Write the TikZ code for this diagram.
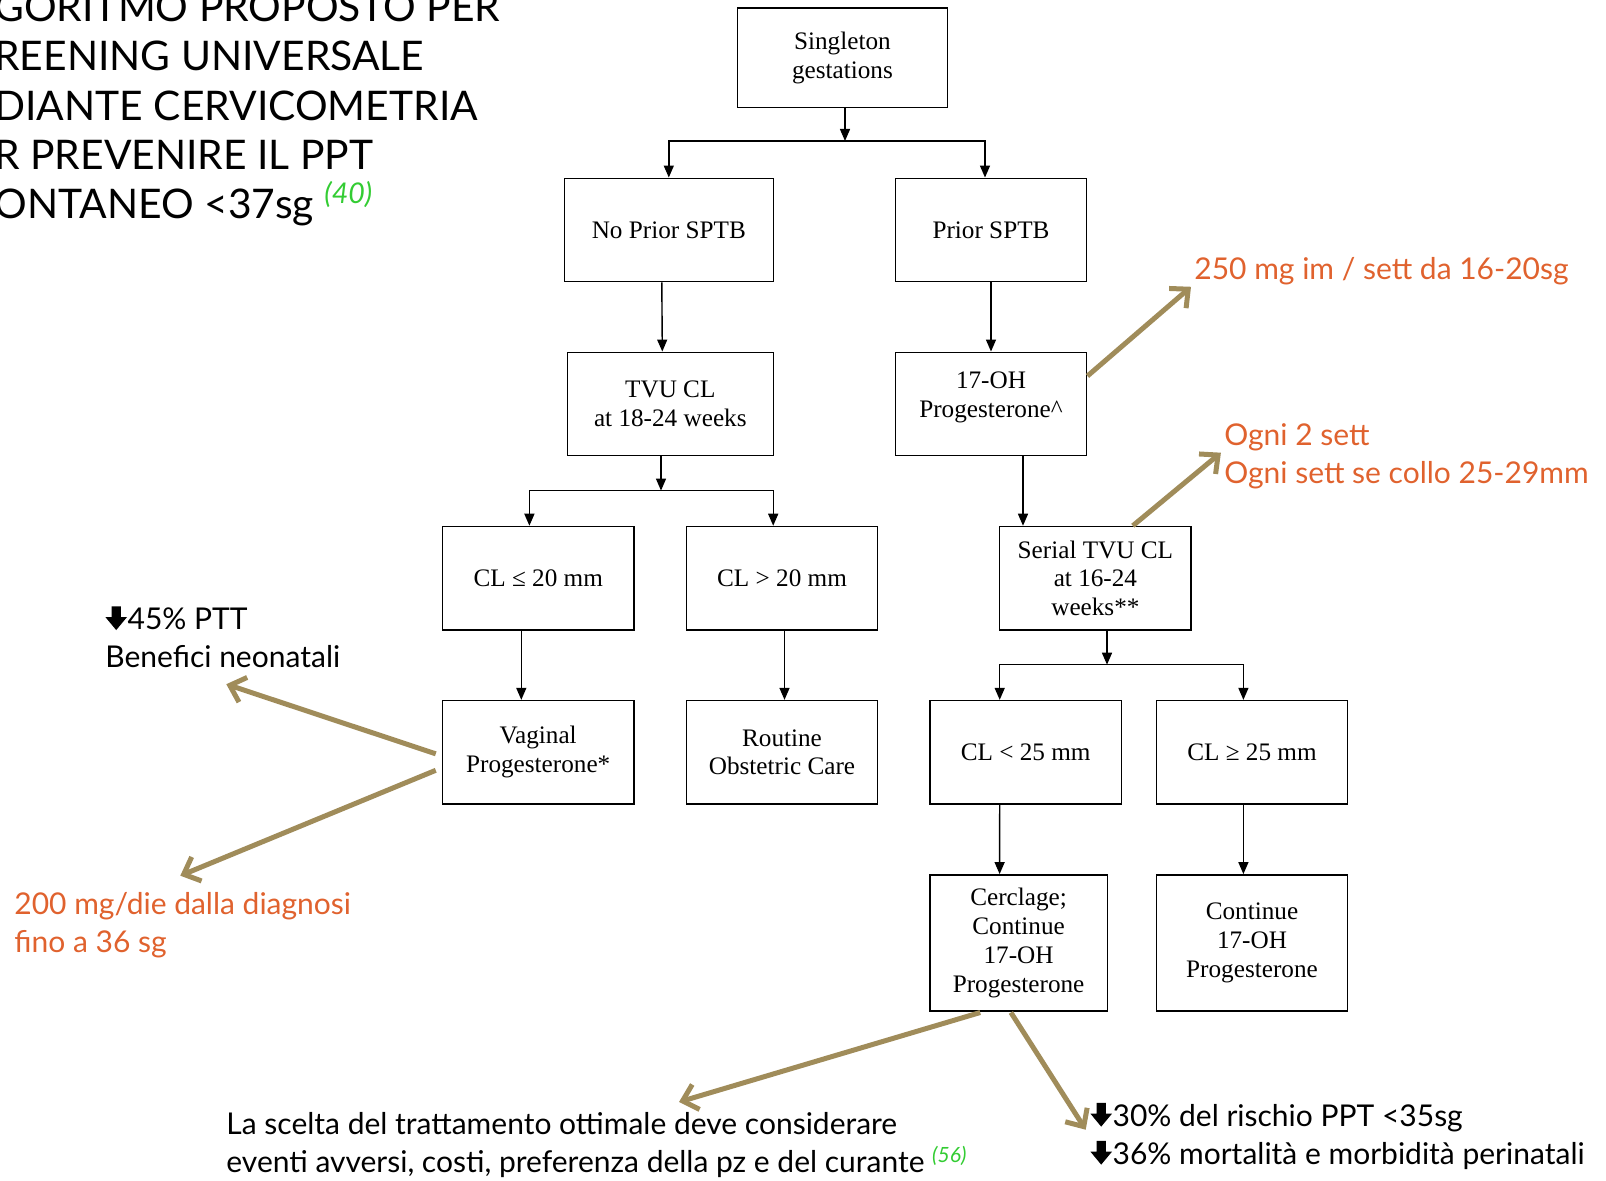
\documentclass[tikz,border=0pt]{standalone}
\usepackage{fontspec}
\setmainfont{Liberation Serif}
\newfontfamily\gill{Lato}
\usetikzlibrary{arrows.meta}
\definecolor{olivegold}{RGB}{160,140,90}
\definecolor{dosered}{RGB}{224,98,46}
\definecolor{refgreen}{RGB}{51,204,51}
\newcommand{\dn}{\tikz[baseline=0pt,x=1pt,y=1pt]\fill[black] (3.1,11.6) -- (7.7,11.6) -- (7.7,6.2) -- (10.8,6.2) -- (5.4,-0.3) -- (0,6.2) -- (3.1,6.2) -- cycle;\hspace{0.3pt}}
\newcommand{\refnum}[1]{{\color{refgreen}\itshape\textsuperscript{(#1)}}}

\begin{document}
\begin{tikzpicture}[x=0.5pt,y=-0.5pt,
	box/.style={draw,line width=0.7pt,align=center,minimum width=95.75pt,minimum height=51.75pt,inner sep=2pt,font=\fontsize{12.6pt}{14.4pt}\selectfont},
	flow/.style={-{Triangle[length=6pt,width=5pt]},line width=0.7pt},
	hint/.style={-{Straight Barb[length=7pt,width=13pt]},draw=olivegold,line width=2.5pt},
	note/.style={anchor=west,align=left,inner sep=0pt,font=\gill\fontsize{15pt}{19pt}\selectfont}]
		\useasboundingbox (0,0) rectangle (1606,1181);
		
		% title, cut by the page edge
		\node[anchor=west,align=left,inner sep=0pt,font=\gill\fontsize{20.4pt}{24.7pt}\selectfont] (title) at (-6,109)
			{GORITMO PROPOSTO PER\\REENING UNIVERSALE\\DIANTE CERVICOMETRIA\\R PREVENIRE IL PPT\\ONTANEO <37sg \refnum{40}};
		
		% flow chart
		\node[box,minimum width=105pt,minimum height=49.7pt] (single) at (842.4,57.9) {Singleton\\gestations};
		\node[box,minimum width=104.5pt] (noprior) at (668.8,230) {No Prior SPTB};
		\node[box] (prior) at (991,230) {Prior SPTB};
		\node[box,minimum width=103pt] (tvucl) at (670.3,404) {TVU CL\\at 18-24 weeks};
		\node[box] (ohprog) at (991,404) {17-OH\\Progesterone\textasciicircum\\[-5pt]\mbox{}};
		\node[box] (clle) at (538.2,578.2) {CL ≤ 20 mm};
		\node[box] (clgt) at (782,578.2) {CL > 20 mm};
		\node[box] (serial) at (1095.4,578.2) {Serial TVU CL\\at 16-24\\weeks**};
		\node[box] (vagprog) at (538.2,752.3) {Vaginal\\Progesterone*};
		\node[box] (routine) at (782,752.3) {Routine\\Obstetric Care};
		\node[box] (clless) at (1025.7,752.3) {CL < 25 mm};
		\node[box] (clgeq) at (1252,752.3) {CL ≥ 25 mm};
		\node[box,minimum width=88.6pt,minimum height=68pt] (cerclage) at (1018.6,942.8) {Cerclage;\\Continue\\17-OH\\Progesterone};
		\node[box,minimum height=68pt] (contoh) at (1252,942.8) {Continue\\17-OH\\Progesterone};
		
		\coordinate (s1) at (845,141);
		\coordinate (s2) at (661,490.6);
		\coordinate (s3) at (1107,664.7);
		
		\draw[flow] (single.south -| s1) -- (s1);
		\draw[flow] (s1) -| (noprior.north);
		\draw[flow] (s1) -| ([xshift=-3pt]prior.north);
		\draw[flow] ([xshift=-3.5pt]noprior.south) -- ([xshift=-4pt]tvucl.north);
		\draw[flow] (prior) -- (ohprog);
		\draw[flow] (tvucl.south -| s2) -- (s2);
		\draw[flow] (s2) -| ([xshift=-4.4pt]clle.north);
		\draw[flow] (s2) -| ([xshift=-4.4pt]clgt.north);
		\draw[flow] ([xshift=16pt]ohprog.south) -- ([xshift=-36.2pt]serial.north);
		\draw[flow] (serial.south -| s3) -- (s3);
		\draw[flow] (s3) -| ([xshift=-13pt]clless.north);
		\draw[flow] (s3) -| ([xshift=-4.3pt]clgeq.north);
		\draw[flow] ([xshift=-8.45pt]clle.south) -- ([xshift=-8.45pt]vagprog.north);
		\draw[flow] ([xshift=1.25pt]clgt.south) -- ([xshift=1.25pt]routine.north);
		\draw[flow] ([xshift=-13pt]clless.south) -- ([xshift=-9.5pt]cerclage.north);
		\draw[flow] ([xshift=-4.3pt]clgeq.south) -- ([xshift=-4.3pt]contoh.north);
		
		% comments round the chart
		\node[note,text=dosered] (ohdose) at (1194,271.4) {250 mg im / sett da 16-20sg};
		\node[note,text=dosered] (every) at (1224,456.7) {Ogni 2 sett\\Ogni sett se collo 25-29mm};
		\node[note] (benefit) at (105,637) {\dn45\% PTT\\Benefici neonatali};
		\node[note,text=dosered] (vagdose) at (14,925) {200 mg/die dalla diagnosi\\fino a 36 sg};
		\node[note] (choice) at (226,1145.5) {La scelta del trattamento ottimale deve considerare\\eventi avversi, costi, preferenza della pz e del curante \refnum{56}};
		\node[note] (outcome) at (1090,1136) {\dn30\% del rischio PPT <35sg\\\dn36\% mortalità e morbidità perinatali};
		
		\coordinate (t1) at (1191,286.8);
		\coordinate (t2) at (1220.9,452.7);
		\coordinate (t3) at (226.3,684.2);
		\coordinate (t4) at (180.3,875.7);
		\coordinate (t5) at (679,1102);
		\coordinate (t6) at (1085.7,1129.7);
		
		\draw[hint] ([yshift=14pt]ohprog.east) -- (t1);
		\draw[hint] ([xshift=18.7pt]serial.north) -- (t2);
		\draw[hint] ([xshift=-3pt,yshift=-0.75pt]vagprog.west) -- (t3);
		\draw[hint] ([xshift=-3pt,yshift=-9pt]vagprog.west) -- (t4);
		\draw[hint] ([xshift=-19.2pt,yshift=-0.5pt]cerclage.south) -- (t5);
		\draw[hint] ([xshift=-3.85pt,yshift=-0.5pt]cerclage.south) -- (t6);
\end{tikzpicture}
\end{document}
